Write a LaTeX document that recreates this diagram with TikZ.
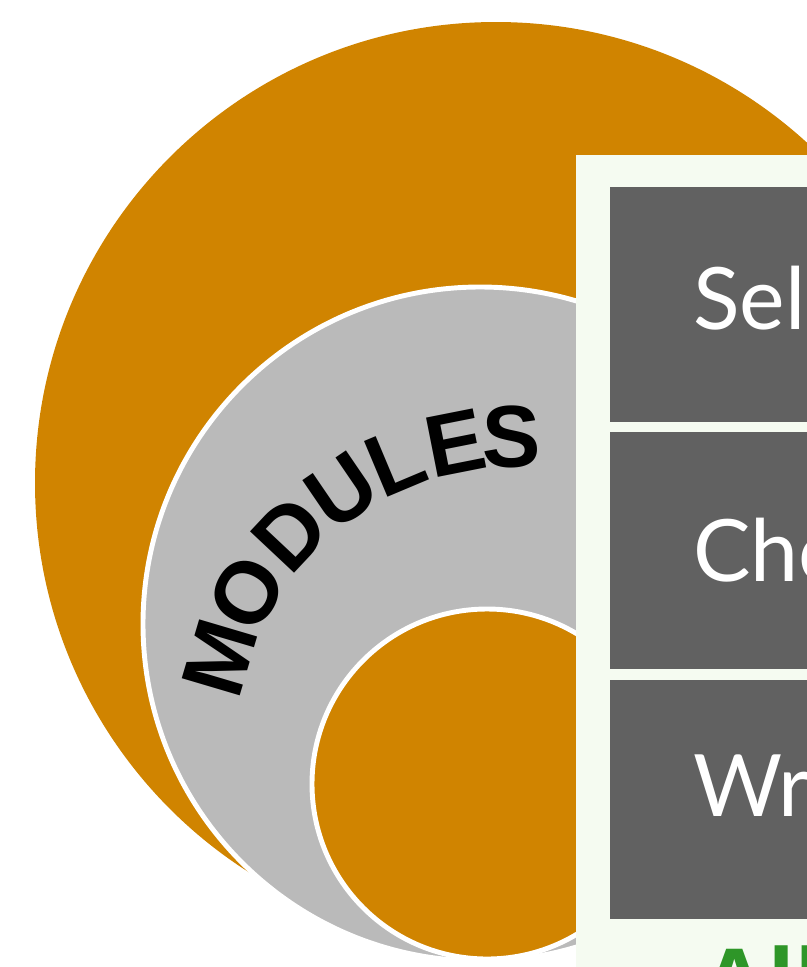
\documentclass[tikz,border=0pt]{standalone}
\usepackage{fontspec}
\setmainfont{Liberation Sans}
\newfontfamily\itemfont{Lato}
\definecolor{ochre}{RGB}{208,132,0}
\definecolor{ringgray}{RGB}{186,186,186}
\definecolor{boxgray}{RGB}{97,97,97}
\definecolor{mint}{RGB}{245,251,241}
\definecolor{leafgreen}{RGB}{46,150,40}
\tikzset{
  ring/.style={fill=ringgray, draw=white, line width=2.8pt},
  disc/.style={fill=ochre, draw=white, line width=2.8pt},
  letter/.style={font=\bfseries\fontsize{50}{50}\selectfont, inner sep=0pt},
  itemtext/.style={font=\itemfont\fontsize{49}{49}\selectfont, text=white, anchor=base west, inner sep=0pt},
}
\begin{document}
\begin{tikzpicture}[x=0.02cm, y=-0.02cm]
        \useasboundingbox (0,0) rectangle (807,967);
        \clip (0,0) rectangle (807,967);

        % target circles
        \fill[ochre] (496,483) circle[radius=461];
        \draw[ring] (480,624) circle[radius=337];
        \draw[disc] (487,784) circle[radius=175];

        % curved title
        \foreach \l/\a in {M/163.5, O/150.5, D/136.8, U/124.3, L/112.8, E/101.2, S/90.6}
            \node[letter, rotate=\a-90] (\l) at ({515+308*cos(\a)}, {745-308*sin(\a)}) {\l};

        % list panel
        \fill[mint] (576,155) rectangle (830,990);
        \fill[boxgray] (610,187) rectangle (830,422);
        \fill[boxgray] (610,432) rectangle (830,669);
        \fill[boxgray] (610,680) rectangle (830,919);
        \node[itemtext] (sel) at (693,329) {Sel};
        \node[itemtext] (cho) at (693,581) {Cho};
        \node[itemtext] (wr) at (693,816) {Wr};

        \node[anchor=base west, inner sep=0pt, text=leafgreen, font=\bfseries\fontsize{54}{54}\selectfont] (all) at (700,1014) {All};
    \end{tikzpicture}
\end{document}
